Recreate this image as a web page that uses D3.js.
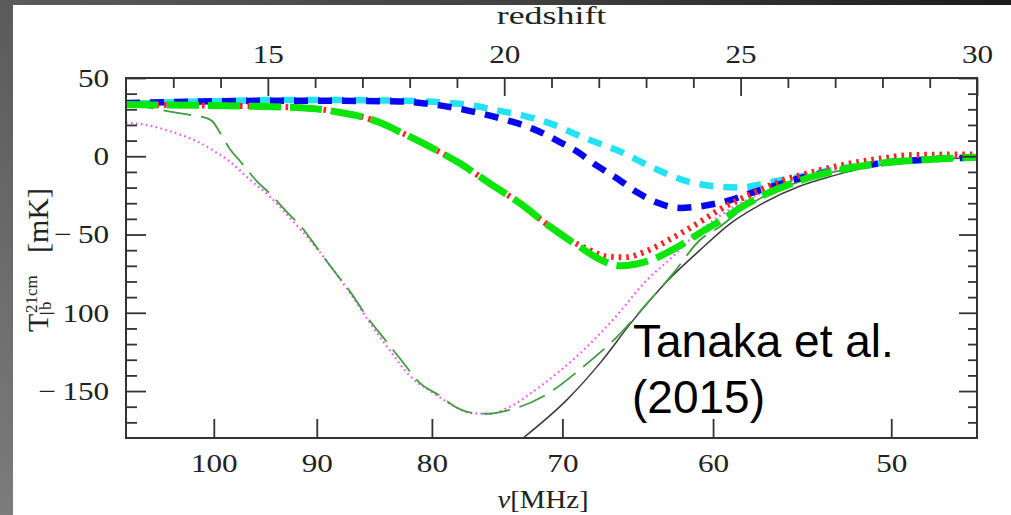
<!DOCTYPE html>
<html>
<head>
<meta charset="utf-8">
<script src="https://cdn.jsdelivr.net/npm/d3@7"></script>
<style>
  html, body { margin: 0; padding: 0; overflow: hidden; background: #fff; }
  svg { display: block; }
</style>
</head>
<body>
<svg id="chart" width="1011" height="515"></svg>
<script>
// ---- 21-cm brightness temperature vs redshift ----

// Axis tick values
const yMajorTicks = [-150, -100, -50, 0, 50];
const zMajorTicks = [15, 20, 25, 30];
const nuTicks = [100, 90, 80, 70, 60, 50];

// Model A (cyan, short dashes)
const zCyan = [12.00, 13.57, 15.68, 17.80, 19.06, 19.91, 20.40, 20.97, 21.75, 22.38, 23.23, 23.87, 24.56, 24.99, 25.41, 25.73, 26.26, 26.89, 27.95, 29.00, 30.00];
const tCyan = [33.5, 35, 36, 35.5, 33.5, 29, 26, 21, 11, 4, -8.5, -16, -19.5, -20, -18, -16, -13, -9, -4.5, -2, -0.7];

// Model B (blue, short dashes)
const zBlue = [12.00, 13.57, 15.68, 17.80, 18.64, 19.49, 20.12, 20.61, 21.12, 21.54, 21.96, 22.38, 22.81, 23.23, 23.72, 24.14, 24.78, 25.20, 25.66, 26.26, 27.36, 27.95, 29.00, 30.00];
const tBlue = [34, 35, 35.5, 35, 32.5, 27.5, 22.5, 17.5, 10, 3, -6, -14, -23, -29.5, -33, -32, -28, -23.7, -19.4, -14, -7.5, -4.5, -2, -0.7];

// Model C (red, dotted)
const zRed = [12.00, 13.57, 14.62, 15.68, 16.10, 16.53, 16.95, 17.37, 17.80, 18.43, 19.06, 19.70, 20.33, 20.97, 21.39, 21.81, 22.17, 22.55, 22.98, 23.51, 24.14, 24.56, 25.20, 25.83, 26.47, 27.25, 27.95, 28.65, 30.00];
const tRed = [33, 32.5, 32, 31, 30, 28, 25.5, 21.5, 15.5, 6, -4.5, -17.5, -30, -45, -53.5, -60, -64, -64.5, -61, -53, -42, -34, -24.5, -16, -10.5, -5, -1.5, 0.8, 1.2];

// Model D (green, long dashes)
const zGreen = [12.00, 13.57, 14.62, 15.68, 16.10, 16.53, 16.95, 17.37, 17.80, 18.43, 19.06, 19.70, 20.33, 20.97, 21.60, 22.03, 22.45, 22.77, 23.08, 23.72, 24.14, 24.56, 24.99, 25.41, 26.19, 27.10, 27.95, 29.00, 30.00];
const tGreen = [33, 32.5, 32, 31, 30, 28, 25.5, 21.5, 15.5, 6, -4.5, -17.5, -30, -45, -58, -66, -70, -69, -66.5, -57, -49, -41.5, -33, -26, -16.2, -8.8, -4.5, -2, -0.7];

// Model E (magenta, thin dotted)
const zMagenta = [12.00, 12.51, 12.93, 13.35, 13.57, 13.88, 14.20, 14.62, 15.05, 15.47, 15.89, 16.31, 16.74, 17.16, 17.58, 18.01, 18.49, 18.85, 19.28, 19.70, 20.12, 20.76, 21.60, 22.30, 23.02, 23.57, 23.99, 24.56, 25.41, 26.26, 27.31, 28.37, 30.00];
const tMagenta = [21.5, 19.5, 16, 11.5, 8.5, 3, -3.5, -15, -26, -39.5, -53.5, -69.5, -87.5, -106.5, -124, -140.5, -151, -158, -164, -164.5, -160, -147, -126, -104.5, -79, -64, -51.5, -38, -24, -14, -7, -3, -0.5];

// Model F (dark green, thin long dashes)
const zThin = [12.00, 12.51, 12.93, 13.35, 13.63, 13.82, 14.01, 14.20, 14.41, 14.77, 15.05, 15.43, 15.68, 16.04, 16.38, 16.74, 17.12, 17.50, 17.84, 18.22, 18.64, 18.96, 19.34, 19.70, 19.91, 20.82, 21.67, 22.38, 23.02, 23.57, 24.14, 24.56, 24.99, 25.41, 26.26, 27.31, 28.37, 30.00];
const tThin = [33, 31, 28.5, 26.5, 25, 22.5, 14, 4.5, -3, -16, -24, -36.5, -44, -58.5, -72.5, -86.5, -103.5, -118, -131, -145, -153, -160, -164, -164.5, -163.5, -153.5, -134.5, -115.5, -94, -75, -53.5, -45, -35, -27, -16, -8, -4, -0.7];

// Model G (black, solid)
const zBlack = [20.40, 21.33, 22.03, 22.72, 23.44, 24.14, 24.78, 25.41, 26.26, 26.89, 27.95, 29.00, 30.00];
const tBlack = [-180, -155.5, -132, -105, -80, -60, -43, -31, -19, -13, -5.5, -2.2, -1];

// ---- layout ----
const W = 1011, H = 515;
const P = { left: 126, top: 78, right: 977, bottom: 438 };
const svg = d3.select("#chart");
const defs = svg.append("defs");

// slide backdrop
const bg = defs.append("linearGradient").attr("id", "bgGrad")
  .attr("gradientUnits", "userSpaceOnUse")
  .attr("x1", 0).attr("y1", H).attr("x2", W).attr("y2", 0);
[[0, "#7c7c7c"], [0.2, "#5c5c5c"], [0.6, "#424242"], [1, "#1c1c1c"]]
  .forEach(([o, c]) => bg.append("stop").attr("offset", o).attr("stop-color", c));
svg.append("rect").attr("width", W).attr("height", H).attr("fill", "url(#bgGrad)");
svg.append("rect").attr("x", 13).attr("y", 5).attr("width", W - 13).attr("height", H - 5).attr("fill", "#fff");

defs.append("clipPath").attr("id", "plotClip").append("rect")
  .attr("x", P.left).attr("y", P.top).attr("width", P.right - P.left).attr("height", P.bottom - P.top);

// ---- scales ----
const zScale = d3.scaleLinear().domain([12, 30]).range([P.left, P.right]);
const nuScale = d3.scaleLog().domain([109.4, 45.8]).range([P.left, P.right]);
const yScale = d3.scaleLinear().domain([-180, 50]).range([P.bottom, P.top]);

// ---- curves ----
const series = [
  { z: zBlack,   t: tBlack,   color: "#3a3a3a", width: 1.5, dash: null },
  { z: zMagenta, t: tMagenta, color: "#ff4dff", width: 2.2, dash: "1.6,3.4" },
  { z: zThin,    t: tThin,    color: "#3f9e3f", width: 1.8, dash: "28,10" },
  { z: zCyan,    t: tCyan,    color: "#22e2f4", width: 6.5, dash: "14,10", offset: 12 },
  { z: zBlue,    t: tBlue,    color: "#0808ee", width: 6.5, dash: "14,10", offset: 0 },
  { z: zRed,     t: tRed,     color: "#ff2424", width: 6,   dash: "2.6,5" },
  { z: zGreen,   t: tGreen,   color: "#0ae60a", width: 7,   dash: "32,9" }
];

const line = d3.line()
  .x(d => zScale(d[0]))
  .y(d => yScale(d[1]))
  .curve(d3.curveMonotoneX);

const curves = svg.append("g").attr("clip-path", "url(#plotClip)");
series.forEach(s => {
  curves.append("path")
    .datum(s.z.map((z, i) => [z, s.t[i]]))
    .attr("d", line)
    .attr("fill", "none")
    .attr("stroke", s.color)
    .attr("stroke-width", s.width)
    .attr("stroke-dasharray", s.dash)
    .attr("stroke-dashoffset", s.offset || 0);
});

// ---- axes ----
const axisColor = "#333";
const labelFont = "'Liberation Serif', 'Times New Roman', serif";
const stretch = 1.2;

function styleAxis(g) {
  g.select(".domain").remove();
  g.selectAll(".tick line").attr("stroke", axisColor).attr("stroke-width", 1.8);
  g.selectAll("text").attr("font-family", labelFont).attr("font-size", 26)
    .attr("fill", "#222").attr("transform", `scale(${stretch},1)`);
}

const yMinor = d3.range(-170, 50, 10).filter(v => !yMajorTicks.includes(v));
const zMinor = d3.range(13, 30, 1).filter(v => !zMajorTicks.includes(v));
const fmtY = d => d < 0 ? "\u2212\u2009" + Math.abs(d) : String(d);

// left
svg.append("g").attr("transform", `translate(${P.left},0)`)
  .call(d3.axisLeft(yScale).tickValues(yMinor).tickSize(-11).tickFormat(""))
  .call(styleAxis);
svg.append("g").attr("transform", `translate(${P.left},0)`)
  .call(d3.axisLeft(yScale).tickValues(yMajorTicks).tickSize(-20).tickPadding(14).tickFormat(fmtY))
  .call(styleAxis);

// right
svg.append("g").attr("transform", `translate(${P.right},0)`)
  .call(d3.axisRight(yScale).tickValues(yMinor).tickSize(-9).tickFormat(""))
  .call(styleAxis);
svg.append("g").attr("transform", `translate(${P.right},0)`)
  .call(d3.axisRight(yScale).tickValues(yMajorTicks).tickSize(-18).tickFormat(""))
  .call(styleAxis);

// top: redshift
svg.append("g").attr("transform", `translate(0,${P.top})`)
  .call(d3.axisTop(zScale).tickValues(zMinor).tickSize(-10).tickFormat(""))
  .call(styleAxis);
svg.append("g").attr("transform", `translate(0,${P.top})`)
  .call(d3.axisTop(zScale).tickValues(zMajorTicks).tickSize(-18).tickPadding(15).tickFormat(d3.format("d")))
  .call(styleAxis);

// bottom: frequency
svg.append("g").attr("transform", `translate(0,${P.bottom})`)
  .call(d3.axisBottom(nuScale).tickValues(nuTicks).tickSize(-19).tickPadding(16).tickFormat(d3.format("d")))
  .call(styleAxis);

// frame
svg.append("rect")
  .attr("x", P.left).attr("y", P.top)
  .attr("width", P.right - P.left).attr("height", P.bottom - P.top)
  .attr("fill", "none").attr("stroke", axisColor).attr("stroke-width", 2);

// ---- axis titles ----
svg.append("text")
  .attr("transform", `translate(${(P.left + P.right) / 2},24) scale(1.38,1)`)
  .attr("text-anchor", "middle")
  .attr("font-family", labelFont).attr("font-size", 26).attr("fill", "#222")
  .text("redshift");

const xt = svg.append("text")
  .attr("transform", `translate(543,508) scale(1.15,1)`)
  .attr("text-anchor", "middle")
  .attr("font-family", labelFont).attr("font-size", 25).attr("fill", "#222");
xt.append("tspan").attr("font-style", "italic").text("\u03bd");
xt.append("tspan").text("[MHz]");

const yl = svg.append("g").attr("transform", "translate(48,332) rotate(-90)")
  .attr("font-family", labelFont).attr("fill", "#222");
yl.append("text").attr("x", 0).attr("y", 0).attr("font-size", 30).text("T");
yl.append("text").attr("x", 19).attr("y", -11).attr("font-size", 17).text("21cm");
yl.append("text").attr("x", 22).attr("y", 3).attr("font-size", 17).text("b");
yl.append("text").attr("x", 79).attr("y", 0).attr("font-size", 30).text("[mK]");

// ---- annotation ----
const note = svg.append("text")
  .attr("font-family", "'Liberation Sans', Arial, sans-serif")
  .attr("font-size", 46).attr("fill", "#000");
note.append("tspan").attr("x", 633).attr("y", 357).text("Tanaka et al.");
note.append("tspan").attr("x", 632).attr("y", 413).text("(2015)");
</script>
</body>
</html>
